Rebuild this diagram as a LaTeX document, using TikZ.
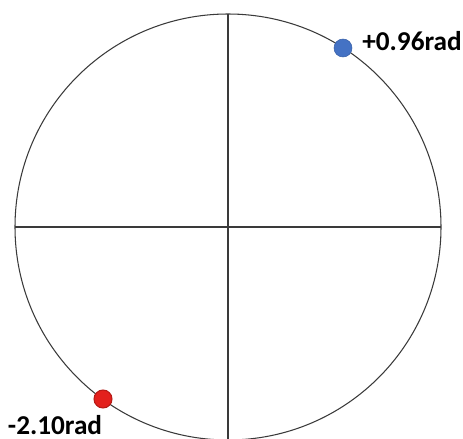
\documentclass[tikz,border=0pt]{standalone}
\usepackage{fontspec}
\setmainfont{Carlito}
\usetikzlibrary{positioning}
\definecolor{dotblue}{HTML}{4472C4}
\definecolor{dotred}{HTML}{E3201C}
\definecolor{linegray}{HTML}{3A3A3A}

\begin{document}
\begin{tikzpicture}[x=0.02cm,y=-0.02cm,
  axis/.style={draw=linegray,line width=0.6pt},
  bluedot/.style={circle,fill=dotblue,draw=dotblue!85!black,line width=0.3pt,inner sep=0pt,minimum size=0.36cm},
  reddot/.style={circle,fill=dotred,draw=dotred!80!black,line width=0.6pt,inner sep=0pt,minimum size=0.36cm},
  radlabel/.style={font=\fontsize{15.5}{18}\selectfont\bfseries,inner sep=0pt}]
\useasboundingbox (0,0) rectangle (463,439);
\begin{scope}
\clip (0,0) rectangle (463,439);
\draw[axis] (228,227) circle[radius=213];
\draw[axis] (15,227)--(441,227);
\draw[axis] (228,14)--(228,440);
\end{scope}
\node[bluedot] (pos) at (343,48) {};
\node[reddot] (neg) at (103,399) {};
\node[radlabel,anchor=west] (poslabel) at (362,41) {+0.96rad};
\node[radlabel] (neglabel) at (55,425) {-2.10rad};
\end{tikzpicture}
\end{document}
